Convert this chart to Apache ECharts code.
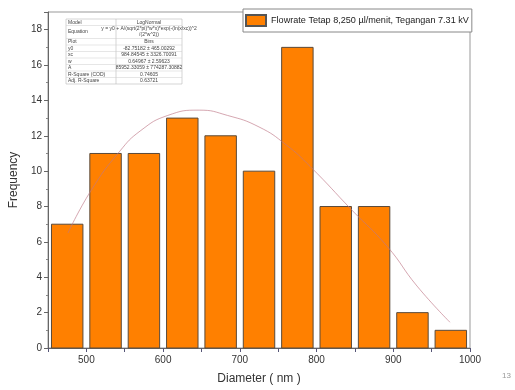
<!DOCTYPE html>
<html><head><meta charset="utf-8">
<script src="https://cdn.jsdelivr.net/npm/echarts@6/dist/echarts.min.js"></script>
<style>html,body{margin:0;padding:0;background:#fff}#c{width:515px;height:390px}</style>
</head><body><div id="c"></div>
<script>
var binCenters = [475, 525, 575, 625, 675, 725, 775, 825, 875, 925, 975];
var frequency = [7, 11, 11, 13, 12, 10, 17, 8, 8, 2, 1];
var fitX = [476, 506, 543, 571, 606, 647, 684, 725, 760, 792, 846, 892, 931, 974];
var fitY = [6.5, 8.9, 11.1, 12.3, 13.15, 13.45, 13.15, 12.5, 11.5, 10.25, 7.8, 5.75, 3.5, 1.45];
var seriesName = 'Flowrate Tetap 8,250 \u00b5l/menit, Tegangan 7.31 kV';
var tableLabels = ['Model', 'Equation', 'Plot', 'y0', 'xc', 'w', 'A', 'R-Square (COD)', 'Adj. R-Square'];
var tableValues = ['LogNormal', 'y = y0 + A/(sqrt(2*pi)*w*x)*exp(-(ln(x/xc))^2\n/(2*w^2))', 'Bins',
  '-82.75182 \u00b1 465.00292', '984.84545 \u00b1 3326.70091', '0.64967 \u00b1 2.59623',
  '85952.33059 \u00b1 774287.30882', '0.74605', '0.63721'];

var chart = echarts.init(document.getElementById('c'));
var FONT = '"Liberation Sans", Arial, sans-serif';

var tg = [];
var tX0 = 66, tX1 = 116, tX2 = 182, tY = 19;
var rowH = [6.5, 13, 6.5, 6.5, 6.5, 6.5, 6.5, 6.5, 6.5];
var totalH = rowH.reduce(function(a,b){return a+b;},0);
tg.push({type:'rect', shape:{x:tX0,y:tY,width:tX2-tX0,height:totalH}, style:{fill:'rgba(255,255,255,0.95)', stroke:'#bbb', lineWidth:0.6}, z:100});
tg.push({type:'line', shape:{x1:tX1,y1:tY,x2:tX1,y2:tY+totalH}, style:{stroke:'#bbb', lineWidth:0.6}, z:101});
var yy = tY;
for (var i = 0; i < tableLabels.length; i++) {
  var h = rowH[i];
  tg.push({type:'text', x:tX0+2, y:yy+h/2, style:{text:tableLabels[i], fontSize:5, fontFamily:FONT, fill:'#444', verticalAlign:'middle', align:'left'}, z:102});
  tg.push({type:'text', x:(tX1+tX2)/2, y:yy+h/2, style:{text:tableValues[i], fontSize:5, fontFamily:FONT, fill:'#444', verticalAlign:'middle', align:'center', lineHeight:6}, z:102});
  yy += h;
  if (i < tableLabels.length-1) tg.push({type:'line', shape:{x1:tX0,y1:yy,x2:tX2,y2:yy}, style:{stroke:'#ccc', lineWidth:0.5}, z:101});
}
tg.push({type:'text', right:4, top:372, style:{text:'13', fontSize:8, fontFamily:FONT, fill:'#999'}});

var barData = binCenters.map(function(c, i){ return [c, frequency[i]]; });
var fitData = fitX.map(function(x, i){ return [x, fitY[i]]; });

chart.setOption({
  animation: false,
  backgroundColor: '#fff',
  grid: {left:45, right:45, top:12, bottom:41, show:true, borderColor:'#999', borderWidth:1},
  legend: {
    data:[seriesName], left:243, top:9, icon:'rect', itemWidth:20, itemHeight:11,
    backgroundColor:'#fff', borderColor:'#888', borderWidth:1, padding:[5,3,5,2], itemGap:4,
    textStyle:{fontSize:9.1, fontFamily:FONT, color:'#222'}, z:50
  },
  xAxis: {
    type:'value', min:450, max:1000, interval:50,
    name:'Diameter ( nm )', nameLocation:'middle', nameGap:25,
    nameTextStyle:{fontSize:12, fontFamily:FONT, color:'#333'},
    axisLine:{lineStyle:{color:'#666'}},
    axisTick:{show:true, length:4, lineStyle:{color:'#557'}},
    axisLabel:{fontSize:10, fontFamily:FONT, color:'#333', margin:7,
      formatter:function(v){ return v % 100 === 0 ? String(v) : ''; }},
    splitLine:{show:false}
  },
  yAxis: {
    type:'value', min:0, max:19, interval:2,
    name:'Frequency', nameLocation:'middle', nameGap:26,
    nameTextStyle:{fontSize:12, fontFamily:FONT, color:'#333'},
    axisLine:{show:true, lineStyle:{color:'#666'}},
    axisTick:{show:true, length:4, lineStyle:{color:'#666'}},
    minorTick:{show:true, splitNumber:2, length:2, lineStyle:{color:'#888'}},
    axisLabel:{fontSize:10, fontFamily:FONT, color:'#333', margin:6, showMaxLabel:false},
    splitLine:{show:false}
  },
  series: [
    {
      name: seriesName, type:'custom', data: barData,
      itemStyle:{color:'#FF8000', borderColor:'#555', borderWidth:1},
      renderItem: function(params, api){
        var x = api.value(0), y = api.value(1);
        var p0 = api.coord([x - 20.5, y]);
        var p1 = api.coord([x + 20.5, 0]);
        return {type:'rect', shape:{x:p0[0], y:p0[1], width:p1[0]-p0[0], height:p1[1]-p0[1]},
          style:{fill:'#FF8000', stroke:'#5a4a3a', lineWidth:1}};
      },
      z:2
    },
    {
      name:'fit', type:'line', data: fitData, smooth:0.5, showSymbol:false,
      lineStyle:{color:'rgba(190,120,135,0.65)', width:1}, z:3
    }
  ],
  graphic: tg
});
</script></body></html>
